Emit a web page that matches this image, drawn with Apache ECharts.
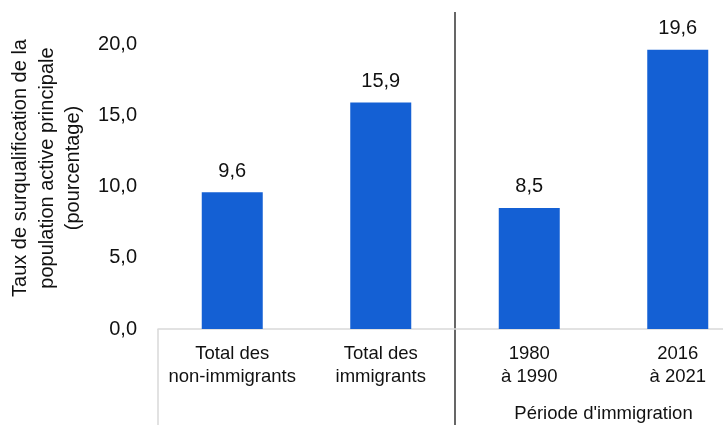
<!DOCTYPE html>
<html>
<head>
<meta charset="utf-8">
<script src="https://cdn.jsdelivr.net/npm/echarts@6/dist/echarts.min.js"></script>
<style>
  html, body { margin: 0; padding: 0; background: #ffffff; }
  #chart { width: 723px; height: 425px; }
</style>
</head>
<body>
<div id="chart"></div>
<script>
// Taux de surqualification, population active principale
const categories = ['Total des\nnon-immigrants', 'Total des\nimmigrants', '1980\nà 1990', '2016\nà 2021'];
const values = [9.6, 15.9, 8.5, 19.6];
const groupLabels = ['', "Période d'immigration"];
const yTicks = { min: 0, max: 20, interval: 5 };
const yTitle = 'Taux de surqualification de la\npopulation active principale\n(pourcentage)';

const FONT = '"Liberation Sans", Arial, sans-serif';
const fmt = v => v.toFixed(1).replace('.', ',');

const chart = echarts.init(document.getElementById('chart'), null, { renderer: 'canvas' });

chart.setOption({
  animation: false,
  backgroundColor: '#ffffff',
  grid: {
    left: 158, right: -29, top: 44, bottom: 96,
    containLabel: false, outerBoundsMode: 'none'
  },
  xAxis: [
    {
      type: 'category',
      data: categories,
      position: 'bottom',
      axisLine: { show: true, lineStyle: { color: '#d9d9d9', width: 1.5 } },
      axisTick: { show: false },
      axisLabel: {
        color: '#111111', fontFamily: FONT, fontSize: 18.5, lineHeight: 23,
        margin: 13, interval: 0
      }
    },
    {
      type: 'category',
      data: groupLabels,
      position: 'bottom',
      gridIndex: 0,
      axisLine: { show: false },
      axisTick: { show: false },
      axisLabel: {
        color: '#111111', fontFamily: FONT, fontSize: 18.5, margin: 75, interval: 0
      }
    }
  ],
  yAxis: {
    type: 'value',
    min: yTicks.min, max: yTicks.max, interval: yTicks.interval,
    axisLine: { show: false },
    axisTick: { show: false },
    splitLine: { show: false },
    axisLabel: {
      color: '#111111', fontFamily: FONT, fontSize: 20, margin: 21,
      formatter: v => fmt(v)
    },
    name: yTitle,
    nameLocation: 'middle',
    nameGap: 64,
    nameRotate: 90,
    nameTextStyle: {
      color: '#111111', fontFamily: FONT, fontSize: 20, lineHeight: 26.5,
      align: 'center', padding: [0, 0, 0, 37]
    }
  },
  series: [{
    type: 'bar',
    data: values,
    xAxisIndex: 0,
    barWidth: 61,
    itemStyle: { color: '#1460d4' },
    label: {
      show: true, position: 'top', distance: 11,
      color: '#111111', fontFamily: FONT, fontSize: 20,
      formatter: p => fmt(p.value)
    }
  }]
});

// Separator lines derived from the category axis geometry
const c0 = chart.convertToPixel({ xAxisIndex: 0 }, 0);
const c1 = chart.convertToPixel({ xAxisIndex: 0 }, 1);
const c2 = chart.convertToPixel({ xAxisIndex: 0 }, 2);
const step = c1 - c0;
const leftEdge = c0 - step / 2;
const groupEdge = (c1 + c2) / 2;
const baseY = chart.convertToPixel({ yAxisIndex: 0 }, 0);
const H = chart.getHeight();

chart.setOption({
  graphic: [
    {
      type: 'line', silent: true,
      shape: { x1: leftEdge, y1: baseY, x2: leftEdge, y2: H },
      style: { stroke: '#d9d9d9', lineWidth: 1.5 }
    },
    {
      type: 'line', silent: true,
      shape: { x1: groupEdge, y1: 12, x2: groupEdge, y2: H },
      style: { stroke: '#000000', lineWidth: 1.2 }
    }
  ]
});
</script>
</body>
</html>
